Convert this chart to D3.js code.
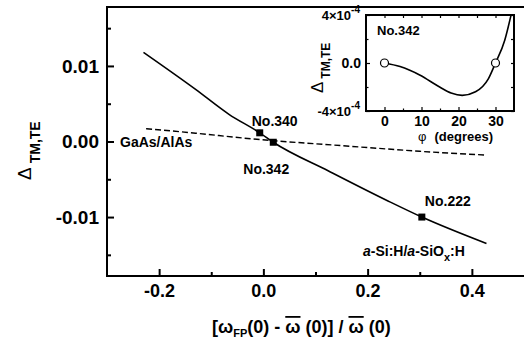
<!DOCTYPE html>
<html>
<head>
<meta charset="utf-8">
<script src="https://cdn.jsdelivr.net/npm/d3@7"></script>
<style>
  body { margin: 0; background: #fff; }
  svg text { font-family: "Liberation Sans", Arial, sans-serif; font-weight: bold; fill: #000; }
</style>
</head>
<body>
<svg width="524" height="341"></svg>
<script>
// main panel data
var solidX = [-0.23, -0.13, -0.066, -0.007, 0.019, 0.125, 0.24, 0.304, 0.428];
var solidY = [0.0118, 0.0069, 0.0036, 0.00115, -0.0001, -0.0039, -0.0079, -0.0100, -0.0135];
var dashX = [-0.225, -0.13, -0.03, 0.02, 0.1, 0.2, 0.3, 0.428];
var dashY = [0.0017, 0.0011, 0.0004, 0.0001, -0.0003, -0.0008, -0.0013, -0.0018];
var sampleNames = ["No.340", "No.342", "No.222"];
var sampleX = [-0.007, 0.019, 0.304];
var sampleY = [0.00115, -0.0001, -0.0100];
var xTicks = [-0.2, 0.0, 0.2, 0.4];
var xMinor = [-0.1, 0.1, 0.3];
var yTicks = [-0.01, 0.0, 0.01];
var yMinor = [-0.015, -0.005, 0.005, 0.015];

// inset data
var insetPhi = [0, 4.2, 9.5, 14.9, 18, 21, 24.6, 28.1, 30, 32.5, 34.2];
var insetDelta = [0, -0.3e-4, -1.0e-4, -2.0e-4, -2.5e-4, -2.7e-4, -2.4e-4, -1.3e-4, 0, 1.9e-4, 4.0e-4];
var circlePhi = [0, 30];
var circleDelta = [0, 0];
var insetXTicks = [0, 10, 20, 30];
var insetXMinor = [5, 15, 25];
var insetYTicks = [-4e-4, 0, 4e-4];
var insetYMinor = [-2e-4, 2e-4];

var svg = d3.select("svg");

var x = d3.scaleLinear().domain([-0.3, 0.5]).range([107, 524]);
var y = d3.scaleLinear().domain([-0.0178, 0.0178]).range([276, 7]);

// axes, ticks pointing inward
function axisGroup(axis, transform) {
    var g = svg.append("g").attr("transform", transform).call(axis);
    g.select(".domain").remove();
    g.selectAll("line").attr("stroke", "#000").attr("stroke-width", 2);
    return g;
}

var gx = axisGroup(d3.axisBottom(x).tickValues(xTicks).tickSize(-7).tickPadding(8)
    .tickFormat(function (d) { return d.toFixed(1); }), "translate(0,276)");
gx.selectAll("text").style("font-size", "18px").style("font-family", "Liberation Sans").style("font-weight", "bold");
axisGroup(d3.axisBottom(x).tickValues(xMinor).tickSize(-4).tickFormat(""), "translate(0,276)");

var gy = axisGroup(d3.axisLeft(y).tickValues(yTicks).tickSize(-7).tickPadding(8)
    .tickFormat(function (d) { return d.toFixed(2); }), "translate(107,0)");
gy.selectAll("text").style("font-size", "19px").style("font-family", "Liberation Sans").style("font-weight", "bold");
axisGroup(d3.axisLeft(y).tickValues(yMinor).tickSize(-4).tickFormat(""), "translate(107,0)");

// frame (left, top, bottom; right side is cut off by the picture edge)
svg.append("path")
    .attr("d", "M530," + y.range()[1] + "H107V" + y.range()[0] + "H530")
    .attr("fill", "none")
    .attr("stroke", "#000")
    .attr("stroke-width", 2);

var line = d3.line()
    .x(function (d) { return x(d[0]); })
    .y(function (d) { return y(d[1]); })
    .curve(d3.curveMonotoneX);

svg.append("path")
    .attr("d", line(d3.zip(solidX, solidY)))
    .attr("fill", "none").attr("stroke", "#000").attr("stroke-width", 1.6);

svg.append("path")
    .attr("d", line(d3.zip(dashX, dashY)))
    .attr("fill", "none").attr("stroke", "#000").attr("stroke-width", 1.4)
    .attr("stroke-dasharray", "6,3");

svg.selectAll(".sample")
    .data(d3.zip(sampleX, sampleY))
    .enter()
    .append("rect")
    .attr("class", "sample")
    .attr("x", function (d) { return x(d[0]) - 3.5; })
    .attr("y", function (d) { return y(d[1]) - 3.5; })
    .attr("width", 7).attr("height", 7)
    .attr("fill", "#000");

// sample labels
var labelDx = [-8, -30, 3];
var labelDy = [-7, 32, -11];
svg.selectAll(".sampleLabel")
    .data(sampleNames)
    .enter()
    .append("text")
    .attr("x", function (d, i) { return x(sampleX[i]) + labelDx[i]; })
    .attr("y", function (d, i) { return y(sampleY[i]) + labelDy[i]; })
    .style("font-size", "14px")
    .text(function (d) { return d; });

svg.append("text").attr("x", 120).attr("y", 147).style("font-size", "14px").text("GaAs/AlAs");

var mat = svg.append("text").attr("x", 363).attr("y", 256).style("font-size", "14px");
mat.append("tspan").style("font-style", "italic").text("a");
mat.append("tspan").text("-Si:H/");
mat.append("tspan").style("font-style", "italic").text("a");
mat.append("tspan").text("-SiO");
mat.append("tspan").attr("dy", 5).style("font-size", "11px").text("x");
mat.append("tspan").attr("dy", -5).text(":H");

// y label
var yl = svg.append("text").attr("transform", "translate(31,180) rotate(-90)");
yl.append("tspan").style("font-size", "19px").style("font-weight", "normal").text("\u0394");
yl.append("tspan").attr("dx", 4).attr("dy", 9).style("font-size", "14px").text("TM,TE");

// x label
var xl = svg.append("text").attr("x", 212).attr("y", 333).style("font-size", "18px");
xl.append("tspan").text("[\u03c9");
xl.append("tspan").attr("dy", 4).style("font-size", "11px").text("FP");
xl.append("tspan").attr("dy", -4).text("(0) - ");
xl.append("tspan").style("text-decoration", "overline").text("\u03c9");
xl.append("tspan").text(" (0)] / ");
xl.append("tspan").style("text-decoration", "overline").text("\u03c9");
xl.append("tspan").text(" (0)");

// inset
var ix = d3.scaleLinear().domain([-5, 35]).range([366, 514]);
var iy = d3.scaleLinear().domain([-4e-4, 4e-4]).range([111, 15]);

svg.append("rect")
    .attr("x", 366).attr("y", 15).attr("width", 148).attr("height", 96)
    .attr("fill", "#fff").attr("stroke", "#000").attr("stroke-width", 2);

function insetTicks(axis, transform) {
    var g = svg.append("g").attr("transform", transform).call(axis);
    g.select(".domain").remove();
    g.selectAll("line").attr("stroke", "#000").attr("stroke-width", 1.2);
    g.selectAll("text").style("font-size", "14px").style("font-family", "Liberation Sans").style("font-weight", "bold");
    return g;
}

insetTicks(d3.axisBottom(ix).tickValues(insetXTicks).tickSize(-4).tickPadding(5), "translate(0,111)");
insetTicks(d3.axisBottom(ix).tickValues(insetXMinor).tickSize(-2.5).tickFormat(""), "translate(0,111)");
insetTicks(d3.axisTop(ix).tickValues(insetXTicks.concat(insetXMinor)).tickSize(-3).tickFormat(""), "translate(0,15)");
insetTicks(d3.axisLeft(iy).tickValues(insetYTicks).tickSize(-4).tickPadding(5)
    .tickFormat(function (d) { return d == 0 ? "0.0" : ""; }), "translate(366,0)");
insetTicks(d3.axisLeft(iy).tickValues(insetYMinor).tickSize(-2.5).tickFormat(""), "translate(366,0)");
insetTicks(d3.axisRight(iy).tickValues(insetYTicks.concat(insetYMinor)).tickSize(-3).tickFormat(""), "translate(514,0)");

// exponent labels on inset y axis
insetYTicks.forEach(function (v) {
    if (v == 0) return;
    var t = svg.append("text")
        .attr("x", 360).attr("y", iy(v) + 5)
        .attr("text-anchor", "end")
        .style("font-size", "13px");
    t.append("tspan").text((v < 0 ? "-" : "") + "4\u00d710");
    t.append("tspan").attr("dy", -7).style("font-size", "10px").text("-4");
});

var iline = d3.line()
    .x(function (d) { return ix(d[0]); })
    .y(function (d) { return iy(d[1]); })
    .curve(d3.curveMonotoneX);

svg.append("path")
    .attr("d", iline(d3.zip(insetPhi, insetDelta)))
    .attr("fill", "none").attr("stroke", "#000").attr("stroke-width", 1.6);

svg.selectAll(".ic")
    .data(d3.zip(circlePhi, circleDelta))
    .enter()
    .append("circle")
    .attr("cx", function (d) { return ix(d[0]); })
    .attr("cy", function (d) { return iy(d[1]); })
    .attr("r", 4)
    .attr("fill", "#fff").attr("stroke", "#000").attr("stroke-width", 1.2);

svg.append("text").attr("x", 377).attr("y", 35).style("font-size", "13px").text("No.342");

var il = svg.append("text").attr("transform", "translate(323,93) rotate(-90)");
il.append("tspan").style("font-size", "17px").style("font-weight", "normal").text("\u0394");
il.append("tspan").attr("dx", 3).attr("dy", 7).style("font-size", "12px").text("TM,TE");

var pl = svg.append("text").attr("x", 418).attr("y", 141).style("font-size", "13px");
pl.append("tspan").style("font-weight", "normal").text("\u03c6");
pl.append("tspan").attr("dx", 8).text("(degrees)");
</script>
</body>
</html>
